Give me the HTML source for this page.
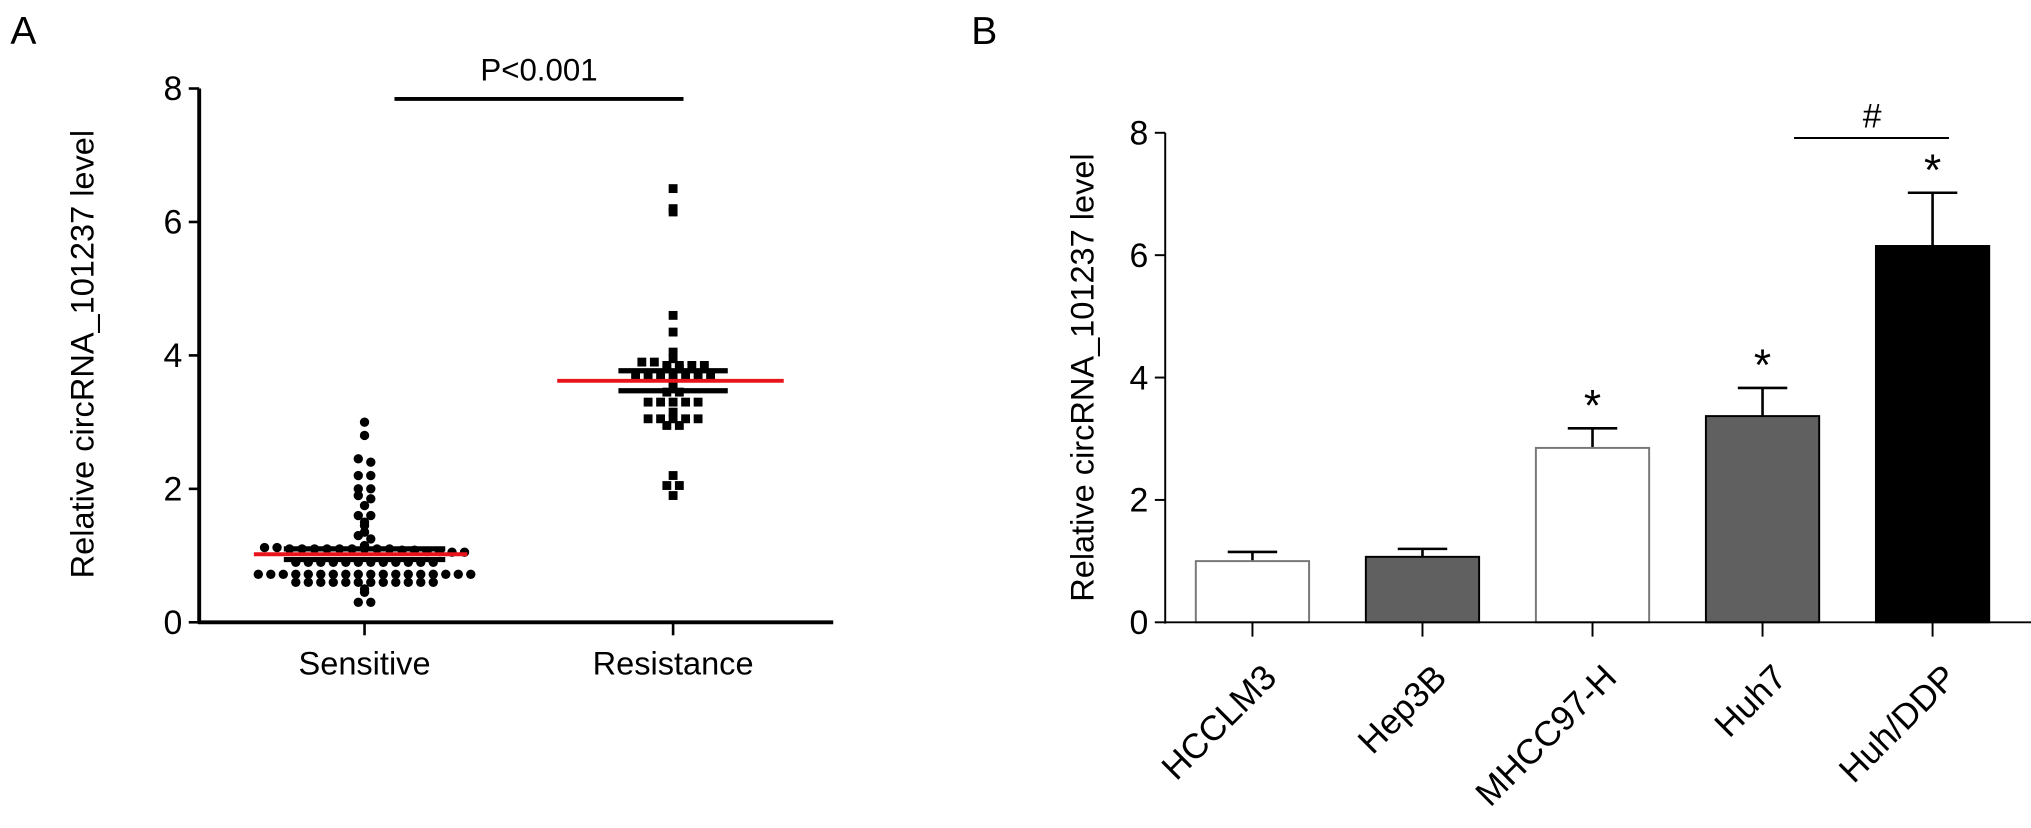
<!DOCTYPE html>
<html><head><meta charset="utf-8"><style>
html,body{margin:0;padding:0;background:#fff}
svg{display:block;font-family:"Liberation Sans",Arial,sans-serif}
</style></head><body>
<svg id="fig" width="2031" height="828" viewBox="0 0 1560 636" preserveAspectRatio="none">
<g id="pa"></g>
<g id="pb"></g>
</svg>
<script>
// Panel A data
const groupsA = ["Sensitive","Resistance"];
const sensitiveVals = [3.0,2.8,2.45,2.4,2.2,2.2,2.0,2.0,1.9,1.85,1.75,1.6,1.6,1.5,1.45,1.35,1.3,1.25,
 1.15,1.12,1.12,1.1,1.1,1.1,1.1,1.1,1.1,1.1,1.1,1.1,1.08,1.08,1.06,1.06,1.05,1.05,
 0.9,0.9,0.9,0.9,0.9,0.9,0.9,0.9,0.9,0.9,0.9,0.9,
 0.72,0.72,0.72,0.72,0.72,0.72,0.72,0.72,0.72,0.72,0.72,0.72,0.72,0.72,0.72,0.72,0.72,0.72,
 0.6,0.6,0.6,0.6,0.6,0.6,0.6,0.6,0.6,0.6,0.6,0.6,0.5,0.45,0.3,0.3];
const resistanceVals = [6.5,6.2,6.15,4.6,4.35,4.05,3.95,3.9,3.9,3.85,3.85,3.85,3.85,3.8,3.8,
 3.7,3.7,3.7,3.7,3.7,3.7,3.7,3.6,3.55,3.45,3.45,3.3,3.3,3.3,3.3,3.3,3.15,3.05,3.05,3.05,3.05,3.05,2.95,2.95,
 2.2,2.05,2.05,1.9];
const meansA = [1.02,3.62];
const semA = [0.08,0.15];
const yTicksA = [0,2,4,6,8];
// Panel B data
const cellLines = ["HCCLM3","Hep3B","MHCC97-H","Huh7","Huh/DDP"];
const barVals = [1.0,1.07,2.85,3.37,6.15];
const errVals = [0.15,0.13,0.32,0.46,0.87];
const barFills = ["#ffffff","#606060","#ffffff","#606060","#000000"];
const starFlags = [false,false,true,true,true];
const yTicksB = [0,2,4,6,8];

const NS="http://www.w3.org/2000/svg";
function mk(parent,tag,attrs,text){const e=document.createElementNS(NS,tag);for(const k in attrs)e.setAttribute(k,attrs[k]);if(text!==undefined)e.textContent=text;parent.appendChild(e);return e;}

// ---------- Panel A ----------
const pa=document.getElementById('pa');
const ax0=153, ax1=640, ay0=478, ay8=68;
const yA=v=>ay0-(ay0-ay8)*v/8;
const xA=i=>[280,517][i];
let t=mk(pa,'text',{x:8,y:34,'font-size':30});t.textContent='A';


let l=mk(pa,'line',{x1:ax0,y1:ay8,x2:ax0,y2:ay0+1,stroke:'#000','stroke-width':3});


l=mk(pa,'line',{x1:ax0-1,y1:ay0,x2:ax1,y2:ay0,stroke:'#000','stroke-width':3});


yTicksA.forEach(v=>{
  mk(pa,'line',{x1:ax0-8,y1:yA(v),x2:ax0,y2:yA(v),stroke:'#000','stroke-width':2});
  const e=mk(pa,'text',{x:ax0-13,y:yA(v)+9,'font-size':26,'text-anchor':'end'},v);
  
  
});
groupsA.forEach((g,i)=>{
  mk(pa,'line',{x1:xA(i),y1:ay0,x2:xA(i),y2:ay0+10,stroke:'#000','stroke-width':2});
  const e=mk(pa,'text',{x:xA(i),y:518,'font-size':25,'text-anchor':'middle'},g);
  
  
});
t=mk(pa,'text',{transform:'translate(72,272) rotate(-90)','font-size':25,'text-anchor':'middle'},'Relative circRNA_101237 level');


l=mk(pa,'line',{x1:303,y1:76,x2:525,y2:76,stroke:'#000','stroke-width':3});


t=mk(pa,'text',{x:414,y:62,'font-size':24,'text-anchor':'middle'},'P<0.001');



function swarm(vals,gi,square){
  const bins={};
  vals.forEach(v=>{const k=Math.round(v/0.09);(bins[k]=bins[k]||[]).push(v);});
  Object.values(bins).forEach(arr=>{
    arr.forEach((v,j)=>{
      const n=arr.length;
      const off=(j-(n-1)/2)*9.6;
      const cx=xA(gi)+off, cy=yA(v);
      let e;
      if(square) e=mk(pa,'rect',{x:cx-3.4,y:cy-3.4,width:6.8,height:6.8,fill:'#000'});
      else e=mk(pa,'circle',{cx:cx,cy:cy,r:3.6,fill:'#000'});
      
      
    });
  });
}
swarm(sensitiveVals,0,false);
swarm(resistanceVals,1,true);
meansA.forEach((m,i)=>{
  const w=[62,42][i];
  [m-semA[i],m+semA[i]].forEach(s=>{
    const e=mk(pa,'line',{x1:xA(i)-w,y1:yA(s),x2:xA(i)+w,y2:yA(s),stroke:'#000','stroke-width':4});
    
    
  });
  const hw=[82,87][i], cx=[277,515][i];
  const e=mk(pa,'line',{x1:cx-hw,y1:yA(m),x2:cx+hw,y2:yA(m),stroke:'#e8141c','stroke-width':3});
  
  
});

// ---------- Panel B ----------
const pb=document.getElementById('pb');
const bx0=895, bx1=1560, by0=478, by8=102;
const yB=v=>by0-(by0-by8)*v/8;
const xB=i=>962+i*130.6;
const bw=87;
t=mk(pb,'text',{x:746,y:34,'font-size':30});t.textContent='B';


t=mk(pb,'text',{transform:'translate(840,290) rotate(-90)','font-size':25,'text-anchor':'middle'},'Relative circRNA_101237 level');


yTicksB.forEach(v=>{
  mk(pb,'line',{x1:bx0-8,y1:yB(v),x2:bx0,y2:yB(v),stroke:'#000','stroke-width':1.5});
  const e=mk(pb,'text',{x:bx0-13,y:yB(v)+9,'font-size':26,'text-anchor':'end'},v);
  
  
});
cellLines.forEach((c,i)=>{
  const cx=xB(i), top=yB(barVals[i]), et=yB(barVals[i]+errVals[i]);
  let e=mk(pb,'line',{x1:cx,y1:top,x2:cx,y2:et,stroke:'#000','stroke-width':2});
  
  
  e=mk(pb,'line',{x1:cx-19,y1:et,x2:cx+19,y2:et,stroke:'#000','stroke-width':2});
  
  
  e=mk(pb,'rect',{x:cx-bw/2,y:top,width:bw,height:by0-top,fill:barFills[i],stroke:barFills[i]==='#ffffff'?'#777':'#000','stroke-width':1.5});
  
  
  if(starFlags[i]){
    e=mk(pb,'text',{x:cx,y:et-6,'font-size':34,'text-anchor':'middle'},'*');
    
    
  }
  mk(pb,'line',{x1:cx,y1:by0,x2:cx,y2:by0+11,stroke:'#000','stroke-width':1.5});
  e=mk(pb,'text',{transform:`translate(${cx+20},${by0+44}) rotate(-45)`,'font-size':27,'text-anchor':'end'},c);
  
  
});
l=mk(pb,'line',{x1:bx0,y1:by8,x2:bx0,y2:by0+1,stroke:'#000','stroke-width':1.5});


l=mk(pb,'line',{x1:bx0,y1:by0,x2:bx1,y2:by0,stroke:'#000','stroke-width':1.5});


l=mk(pb,'line',{x1:1378,y1:106,x2:1497,y2:106,stroke:'#000','stroke-width':1.5});


t=mk(pb,'text',{x:1438,y:98,'font-size':26,'text-anchor':'middle'},'#');


</script>
</body></html>
